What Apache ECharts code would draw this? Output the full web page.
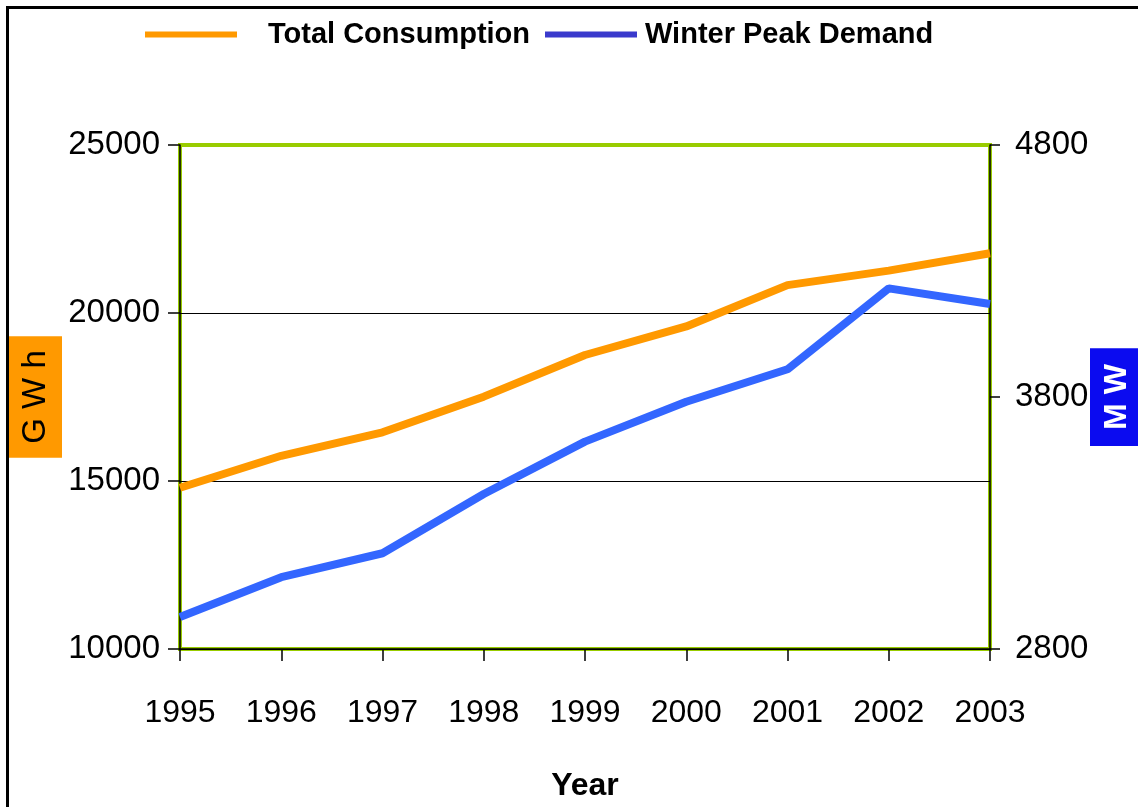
<!DOCTYPE html>
<html>
<head>
<meta charset="utf-8">
<script src="https://cdn.jsdelivr.net/npm/echarts@6/dist/echarts.min.js"></script>
<style>html,body{margin:0;padding:0;background:#fff}#c{width:1138px;height:807px}</style>
</head>
<body>
<div id="c"></div>
<script>
const years = ['1995', '1996', '1997', '1998', '1999', '2000', '2001', '2002', '2003'];
const totalConsumption = [14800, 15750, 16450, 17510, 18750, 19600, 20830, 21260, 21780];
const winterPeakDemand = [2927, 3085, 3180, 3415, 3623, 3781, 3910, 4231, 4169];
const seriesNames = ['Total Consumption', 'Winter Peak Demand'];
const leftAxisRange = [10000, 25000, 5000];
const rightAxisRange = [2800, 4800, 1000];

const FONT = "'Liberation Sans', Arial, sans-serif";
const ORANGE = '#FF9900';
const BLUE = '#3366FF';
const GREEN = '#99CC00';

const chart = echarts.init(document.getElementById('c'), null, {renderer: 'canvas'});
chart.setOption({
  backgroundColor: '#ffffff',
  animation: false,
  graphic: [{
    type: 'rect', silent: true, z: 100,
    shape: {x: 7.5, y: 7.5, width: 1300, height: 900},
    style: {fill: 'none', stroke: '#000', lineWidth: 3}
  }],
  legend: [{
    left: 145, top: 20, padding: 0,
    icon: 'rect', itemWidth: 92, itemHeight: 6,
    data: [{name: seriesNames[0], itemStyle: {color: ORANGE}}],
    textStyle: {fontFamily: FONT, fontSize: 29, fontWeight: 'bold', color: '#000', padding: [0, 0, 0, 26]}
  }, {
    left: 545, top: 20, padding: 0,
    icon: 'rect', itemWidth: 92, itemHeight: 6,
    data: [{name: seriesNames[1], itemStyle: {color: '#3a3acc'}}],
    textStyle: {fontFamily: FONT, fontSize: 29, fontWeight: 'bold', color: '#000', padding: [0, 0, 0, 3]}
  }],
  grid: {
    left: 180, right: 148, top: 145, bottom: 158,
    outerBoundsMode: 'none',
    containLabel: false,
    show: true, borderColor: GREEN, borderWidth: 4, backgroundColor: '#fff'
  },
  xAxis: {
    type: 'category',
    data: years,
    boundaryGap: false,
    name: 'Year',
    nameLocation: 'middle',
    nameGap: 121,
    nameMoveOverlap: false,
    nameTextStyle: {fontFamily: FONT, fontSize: 32, fontWeight: 'bold', color: '#000'},
    axisLine: {lineStyle: {color: '#000', width: 1.5}},
    axisTick: {length: 12, interval: 0, lineStyle: {color: '#000', width: 1.5}},
    axisLabel: {fontFamily: FONT, fontSize: 32, color: '#000', margin: 48, interval: 0},
    splitLine: {show: false}
  },
  yAxis: [{
    type: 'value',
    min: leftAxisRange[0], max: leftAxisRange[1], interval: leftAxisRange[2],
    name: 'G W h',
    nameLocation: 'middle',
    nameRotate: 90,
    nameGap: 118,
    nameMoveOverlap: false,
    nameTextStyle: {fontFamily: FONT, fontSize: 33, color: '#000', backgroundColor: ORANGE, padding: [10, 14]},
    axisLine: {show: true, lineStyle: {color: '#000', width: 1.5}},
    axisTick: {show: true, length: 12, lineStyle: {color: '#000', width: 1.5}},
    axisLabel: {fontFamily: FONT, fontSize: 33, color: '#000', margin: 20, formatter: v => String(v)},
    splitLine: {show: true, lineStyle: {color: ['#000', '#000', '#000', GREEN], width: 1.2}}
  }, {
    type: 'value',
    position: 'right',
    min: rightAxisRange[0], max: rightAxisRange[1], interval: rightAxisRange[2],
    name: 'M W',
    nameLocation: 'middle',
    nameRotate: 90,
    nameGap: 100,
    nameMoveOverlap: false,
    nameTextStyle: {fontFamily: FONT, fontSize: 32, fontWeight: 'bold', color: '#fff', backgroundColor: '#0b0bf0', padding: [11, 16]},
    axisLine: {show: true, lineStyle: {color: '#000', width: 1.5}},
    axisTick: {show: true, length: 10, lineStyle: {color: '#000', width: 1.5}},
    axisLabel: {fontFamily: FONT, fontSize: 33, color: '#000', margin: 25, formatter: v => String(v)},
    splitLine: {show: false}
  }],
  series: [{
    name: seriesNames[0],
    type: 'line',
    yAxisIndex: 0,
    data: totalConsumption,
    showSymbol: false,
    symbol: 'none',
    lineStyle: {color: ORANGE, width: 8},
    itemStyle: {color: ORANGE}
  }, {
    name: seriesNames[1],
    type: 'line',
    yAxisIndex: 1,
    data: winterPeakDemand,
    showSymbol: false,
    symbol: 'none',
    lineStyle: {color: BLUE, width: 8},
    itemStyle: {color: BLUE}
  }]
});
</script>
</body>
</html>
